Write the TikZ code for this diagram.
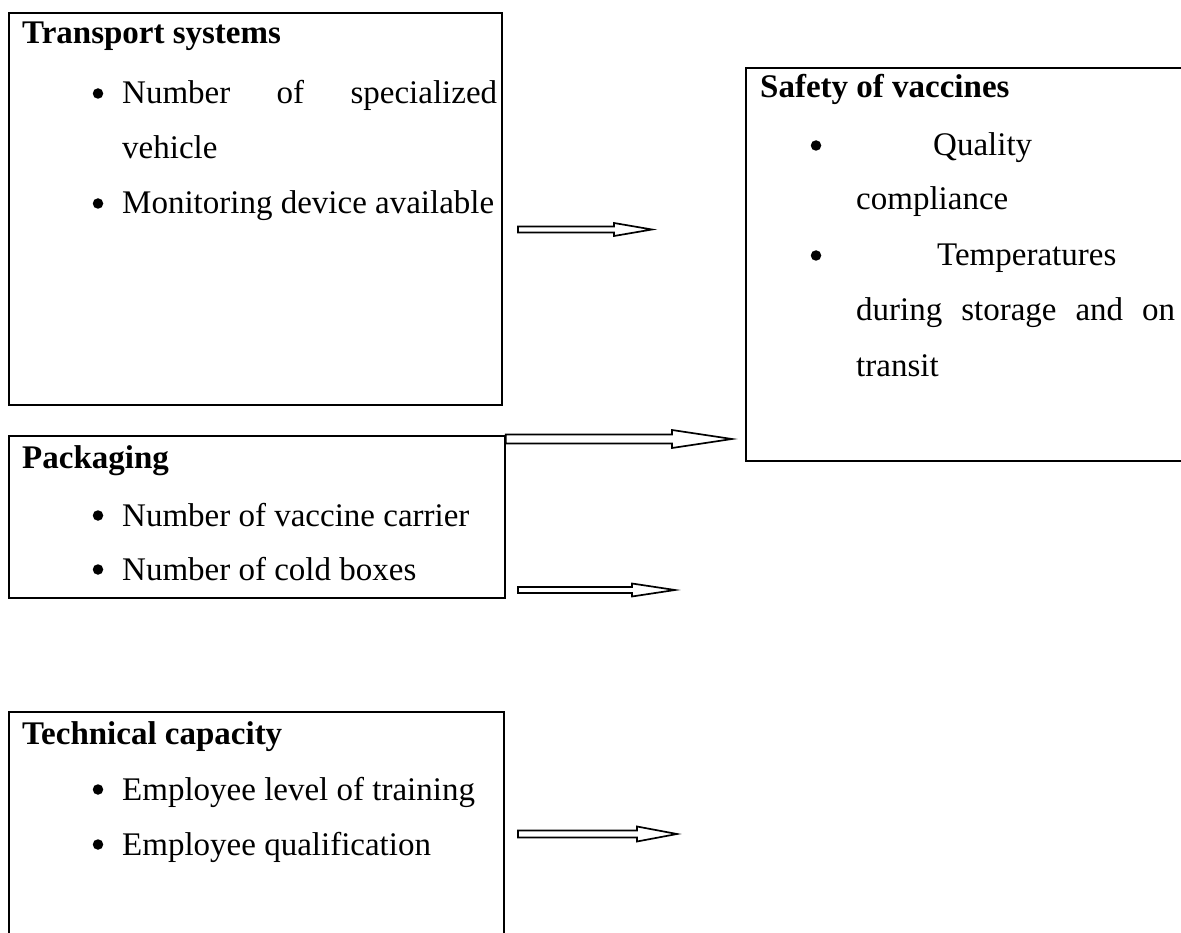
\documentclass[tikz,border=0pt]{standalone}
\usepackage{fontspec}
\setmainfont{Liberation Serif}
\usetikzlibrary{calc}
\tikzset{
  box/.style={draw=black, line width=1.7pt, anchor=north west, inner sep=0pt},
  txt/.style={anchor=base west, inner sep=0pt, font=\fontsize{33}{40}\selectfont},
  hd/.style={txt, font=\fontsize{33}{40}\selectfont\bfseries},
  bul/.style={circle, fill=black, inner sep=0pt, minimum size=10.5pt, yshift=10.5pt},
  blockarrow/.style={draw=black, line width=1.7pt, fill=white, line join=miter}
}
% #1 start, #2 end, #3 shaft half width, #4 head half width, #5 head length
\newcommand\myblockarrow[5]{%
  \draw[blockarrow] ($(#1)+(0,-#3)$) -- ($(#2)+(-#5,-#3)$) -- ($(#2)+(-#5,-#4)$) -- (#2)
    -- ($(#2)+(-#5,#4)$) -- ($(#2)+(-#5,#3)$) -- ($(#1)+(0,#3)$) -- cycle;}
\begin{document}
\begin{tikzpicture}[x=1pt, y=-1pt]
\clip (0,0) rectangle (1181,933);
\fill[white] (0,0) rectangle (1181,933);

% boxes
\node[box, minimum width=493pt, minimum height=392pt] (transport) at (8,12) {};
\node[box, minimum width=496pt, minimum height=162pt] (packaging) at (8,435) {};
\node[box, minimum width=495pt, minimum height=240pt] (technical) at (8,711) {};
\node[box, minimum width=460pt, minimum height=393pt] (safety) at (745,67) {};

% Transport systems
\node[hd] (t0) at (22,44) {Transport systems};
\node[bul] (tb1) at (98,104) {};
\node[txt] (t1) at (122,104) {\hbox to 375pt{Number\hfill of\hfill specialized}};
\node[txt] (t2) at (122,159) {vehicle};
\node[bul] (tb2) at (98,214) {};
\node[txt] (t3) at (122,214) {Monitoring device available};

% Packaging
\node[hd] (p0) at (22,468) {Packaging};
\node[bul] (pb1) at (98,526) {};
\node[txt] (p1) at (122,526) {Number of vaccine carrier};
\node[bul] (pb2) at (98,580) {};
\node[txt] (p2) at (122,580) {Number of cold boxes};

% Technical capacity
\node[hd] (c0) at (22,744) {Technical capacity};
\node[bul] (cb1) at (98,800) {};
\node[txt] (c1) at (122,800) {Employee level of training};
\node[bul] (cb2) at (98,855) {};
\node[txt] (c2) at (122,855) {Employee qualification};

% Safety of vaccines
\node[hd] (s0) at (760,98) {Safety of vaccines};
\node[bul] (sb1) at (816,156) {};
\node[txt] (s1) at (933,156) {Quality};
\node[txt] (s2) at (856,210) {compliance};
\node[bul] (sb2) at (816,266) {};
\node[txt] (s3) at (937,266) {Temperatures};
\node[txt] (s4) at (856,321) {\hbox to 319pt{during\hfill storage\hfill and\hfill on}};
\node[txt] (s5) at (856,376) {transit};

% arrows
\coordinate (a1s) at (518,229.5);
\coordinate (a1e) at (652,229.5);
\coordinate (a2s) at ($(packaging.north east)+(0,4)$);
\coordinate (a2e) at (732,439);
\coordinate (a3s) at (518,590);
\coordinate (a3e) at (675,590);
\coordinate (a4s) at (518,834);
\coordinate (a4e) at (677,834);
\myblockarrow{a1s}{a1e}{3}{6.5}{38}
\myblockarrow{a2s}{a2e}{4.5}{9}{60}
\myblockarrow{a3s}{a3e}{3}{6.5}{43}
\myblockarrow{a4s}{a4e}{3.5}{7.5}{40}
\end{tikzpicture}
\end{document}
